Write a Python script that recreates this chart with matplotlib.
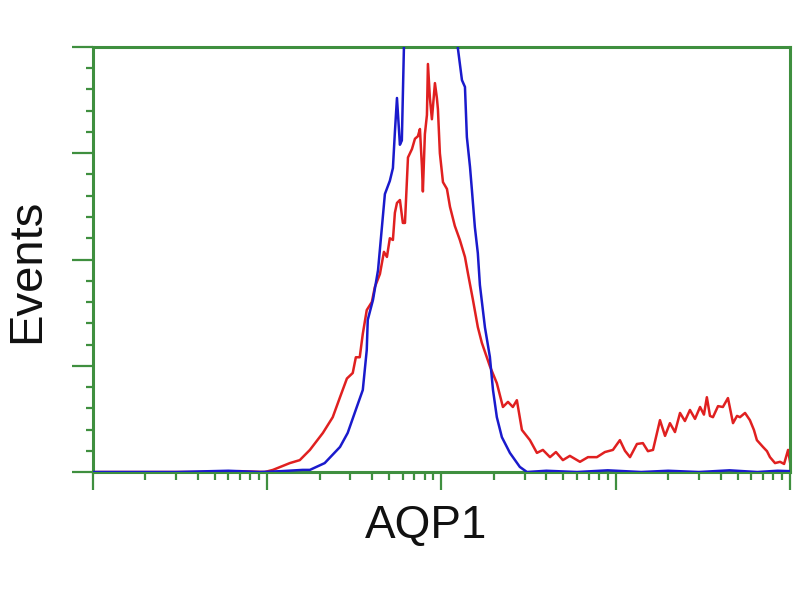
import matplotlib
matplotlib.use("Agg")
import matplotlib.pyplot as plt
from matplotlib.ticker import LogLocator, MultipleLocator, NullFormatter

# Fluorescence intensity (log axis) and event counts
blue_x = [1.0, 3.0, 6.0, 9.1, 12.0, 16.0, 17.6, 21.4, 26.2, 29.0, 32.7, 35.4, 37.3, 37.8,
          40.5, 43.3, 47.4, 50.6, 52.7, 54.1, 55.6, 57.8, 59.3, 61.0,
          66.0, 75.0, 85.0, 95.0, 105.0, 115.0, 124.5, 131.2, 136.5, 140.0, 145.9,
          149.6, 155.6, 161.8, 166.3, 177.8, 189.7, 197.7, 208.0, 222.3, 247.2,
          281.8, 309.7, 400.0, 600.0, 900.0, 1400.0, 2000.0, 3000.0, 4500.0,
          6500.0, 8500.0, 10000.0]
blue_y = [0.0, 0.0, 0.3, 0.0, 0.2, 0.5, 0.5, 2.1, 5.9, 9.2, 15.3, 19.3, 28.7, 35.8,
          40.5, 47.5, 65.4, 68.5, 71.5, 80.0, 88.0, 77.0, 78.0, 100.5,
          120.0, 135.0, 140.0, 138.0, 130.0, 115.0, 99.5, 92.2, 90.6, 78.8, 71.8,
          66.4, 57.6, 51.5, 44.0, 34.0, 27.1, 19.3, 12.9, 8.2, 4.5,
          1.2, 0.0, 0.3, 0.0, 0.4, 0.0, 0.3, 0.0, 0.4, 0.0, 0.3, 0.2]

red_x = [1.0, 4.0, 7.0, 9.7, 10.8, 13.5, 15.4, 17.6, 20.9, 23.8, 26.2, 28.7, 31.0, 32.3,
         34.0, 35.4, 37.3, 39.9, 41.5, 44.4, 46.8, 48.7, 50.6, 52.7, 54.1, 55.6,
         57.8, 60.1, 61.8, 64.3, 67.8, 70.5, 73.3, 75.3, 77.3, 78.3, 80.4, 82.6,
         83.7, 85.9, 88.2, 91.8, 94.2, 95.5, 98.0, 102.1, 107.6, 112.0, 119.4,
         127.6, 136.5, 141.9, 151.7, 161.8, 170.6, 189.7, 208.0, 225.4, 240.9,
         257.0, 271.0, 289.7, 322.1, 353.2, 382.1, 419.8, 454.0, 497.7, 545.8,
         623.7, 693.4, 780.0, 867.0, 963.9, 1057.0, 1130.0, 1208.0, 1324.0,
         1432.0, 1531.0, 1637.0, 1795.0, 1919.0, 2047.0, 2188.0, 2339.0, 2495.0,
         2667.0, 2851.0, 3048.0, 3208.0, 3334.0, 3475.0, 3614.0, 3864.0, 4121.0,
         4406.0, 4710.0, 4966.0, 5164.0, 5521.0, 5888.0, 6209.0, 6457.0, 6998.0,
         7379.0, 7674.0, 8204.0, 8770.0, 9247.0, 9750.0, 10000.0]
red_y = [0.0, 0.0, 0.2, 0.0, 0.5, 2.1, 2.8, 5.2, 9.2, 12.9, 17.6, 22.0, 23.3, 27.0,
         27.0, 32.5, 38.1, 40.0, 43.5, 46.6, 51.8, 50.6, 55.0, 54.6, 61.0, 63.3,
         64.0, 58.6, 58.6, 74.0, 76.0, 78.4, 79.0, 80.7, 72.0, 66.0, 79.5, 84.0,
         96.0, 88.0, 83.0, 91.5, 88.0, 85.4, 75.0, 68.2, 66.6, 62.4, 57.9,
         54.6, 50.6, 46.8, 40.5, 34.1, 30.4, 24.9, 20.9, 15.3, 16.5,
         15.3, 16.9, 9.9, 7.5, 4.5, 5.2, 3.5, 4.7, 2.8, 3.8,
         2.4, 3.5, 3.5, 4.7, 5.2, 7.5, 5.0, 3.5, 6.6,
         6.8, 4.9, 5.2, 12.2, 8.5, 11.5, 9.4, 13.9, 12.0,
         14.6, 12.5, 15.3, 13.5, 17.6, 13.2, 12.9, 15.5, 15.3,
         17.4, 11.5, 13.2, 12.9, 13.9, 12.2, 9.9, 7.5, 5.9,
         4.9, 3.5, 2.1, 2.4, 1.9, 5.2, 2.4]

x_label = "AQP1"
y_label = "Events"

GREEN = "#3f8f3f"
BLUE = "#1a1acc"
RED = "#e02020"

fig = plt.figure(figsize=(8, 6), dpi=100)
ax = fig.add_axes([0.116, 0.2133, 0.8715, 0.7084])

ax.plot(red_x, red_y, color=RED, lw=1.8, zorder=2)
ax.plot(blue_x, blue_y, color=BLUE, lw=1.8, zorder=3)

ax.set_xscale("log")
ax.set_xlim(1, 1e4)
ax.set_ylim(0, 100)

ax.xaxis.set_major_locator(LogLocator(base=10, numticks=10))
ax.xaxis.set_minor_locator(LogLocator(base=10, subs=range(2, 10), numticks=20))
ax.xaxis.set_major_formatter(NullFormatter())
ax.xaxis.set_minor_formatter(NullFormatter())
ax.yaxis.set_major_locator(MultipleLocator(25))
ax.yaxis.set_minor_locator(MultipleLocator(5))
ax.yaxis.set_major_formatter(NullFormatter())

for sp in ax.spines.values():
    sp.set_color(GREEN)
    sp.set_linewidth(2.2)

ax.tick_params(axis="both", which="both", direction="out", color=GREEN,
               top=False, right=False)
ax.tick_params(axis="y", which="major", length=15, width=1.6)
ax.tick_params(axis="y", which="minor", length=5, width=1.6)
ax.tick_params(axis="x", which="major", length=13, width=1.6)
ax.tick_params(axis="x", which="minor", length=6, width=1.6)

fig.text(0.034, 0.548, y_label, rotation=90, ha="center", va="center",
         fontsize=34, family="Liberation Sans", color="#111111")
fig.text(0.533, 0.123, x_label, ha="center", va="center",
         fontsize=33, family="Liberation Sans", color="#111111")

fig.savefig("out.png", dpi=100, facecolor="white")
